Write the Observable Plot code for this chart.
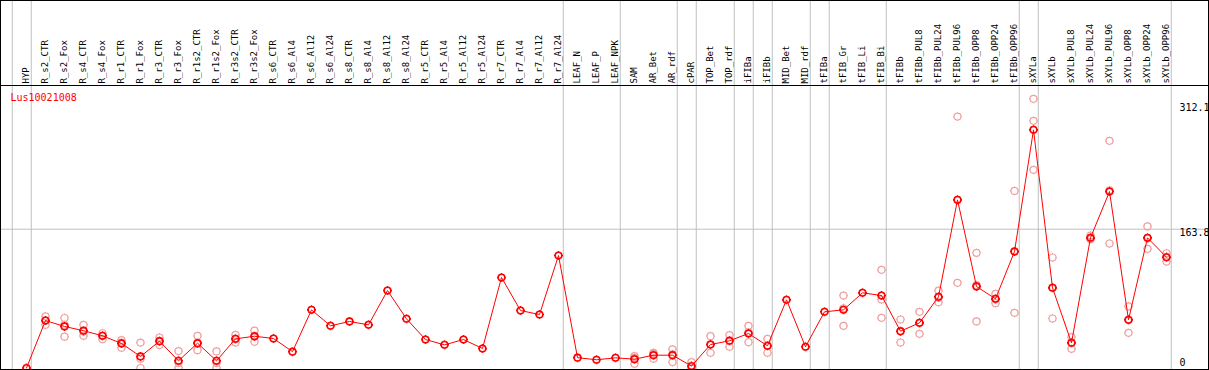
<!DOCTYPE html>
<html>
<head>
<meta charset="utf-8">
<script src="https://cdn.jsdelivr.net/npm/d3@7"></script>
<script src="https://cdn.jsdelivr.net/npm/@observablehq/plot@0.6"></script>
<style>
  html, body { margin: 0; padding: 0; background: white; }
  #chart svg { display: block; }
</style>
</head>
<body>
<div id="chart"></div>
<script>
const title = "Lus10021008";

const categories = [
  "HYP","R_s2_CTR","R_s2_Fox","R_s4_CTR","R_s4_Fox","R_r1_CTR","R_r1_Fox","R_r3_CTR","R_r3_Fox",
  "R_r1s2_CTR","R_r1s2_Fox","R_r3s2_CTR","R_r3s2_Fox","R_s6_CTR","R_s6_Al4","R_s6_Al12","R_s6_Al24",
  "R_s8_CTR","R_s8_Al4","R_s8_Al12","R_s8_Al24","R_r5_CTR","R_r5_Al4","R_r5_Al12","R_r5_Al24",
  "R_r7_CTR","R_r7_Al4","R_r7_Al12","R_r7_Al24","LEAF_N","LEAF_P","LEAF_NPK","SAM","AR_Bet","AR_rdf",
  "cPAR","TOP_Bet","TOP_rdf","iFIBa","iFIBb","MID_Bet","MID_rdf","tFIBa","tFIB_Gr","tFIB_Li","tFIB_Bi",
  "tFIBb","tFIBb_PUL8","tFIBb_PUL24","tFIBb_PUL96","tFIBb_OPP8","tFIBb_OPP24","tFIBb_OPP96",
  "sXYLa","sXYLb","sXYLb_PUL8","sXYLb_PUL24","sXYLb_PUL96","sXYLb_OPP8","sXYLb_OPP24","sXYLb_OPP96"
];

const means = [
  0, 56, 49, 44, 38, 29, 13.6, 31.6, 8.5,
  29.3, 8.5, 34.4, 37.5, 34.8, 19.3, 68.6, 49.8,
  54.9, 50.9, 91.4, 58, 33.6, 27.3, 33.6, 23,
  106.8, 67.8, 63.1, 132.7, 12.2, 9.7, 12, 10.4, 15.1, 15.1,
  2.3, 27.7, 32.1, 40.7, 26.2, 80.4, 25, 66.3, 68.6, 88.7, 85.5,
  43.4, 53.3, 84, 198.4, 96.2, 81.6, 137.4,
  281, 94.6, 29.7, 153.6, 208.2, 56.9, 153.6, 130.7
];

const replicates = [
  [], [61, 56, 51], [59, 51, 37], [51, 43, 38], [41, 38, 34], [33, 30, 24], [30, 11, 0], [36, 32, 27], [20, 6, 0],
  [38, 29, 21], [19.5, 6, 0], [39, 34, 30], [44, 37, 31], [], [], [], [],
  [], [], [], [], [], [], [], [],
  [], [], [], [], [], [], [], [14, 12, 5], [18, 17, 11], [22, 16, 7],
  [7, 0, 0], [37.5, 28, 18], [38.7, 32.5, 25], [49.8, 42, 30.4], [34.4, 26, 18], [], [], [], [85.5, 70.5, 49.8], [], [115.8, 80.8, 59.2],
  [57.2, 43, 30.1], [66.3, 53, 40.3], [91.4, 83, 77.6], [296.7, 198, 100.5], [135.9, 97.8, 54.9], [87.5, 81, 76.5], [209, 138, 65.1],
  [317.6, 291.6, 233.8], [130.4, 95, 58.4], [36.4, 30, 22.6], [156.3, 152.5, 152], [268, 209.7, 146.9], [72.6, 56.6, 41.5], [167, 153, 140.6], [135.4, 131, 125.6]
];

// index of the last category of each group (vertical separators drawn after them)
const groupEnds = [-1, 0, 28, 31, 34, 35, 37, 38, 39, 41, 42, 45, 52, 53, 60];

const yTicks = [0, 163.8, 312.1];

const meanData = categories.map((c, i) => ({i, c, v: means[i]}));
const repData = replicates.flatMap((vals, i) => vals.map(v => ({i, v})));

function ringTick(r, tick) {
  return {
    draw(ctx) {
      const t = r + tick;
      ctx.moveTo(r, 0);
      ctx.arc(0, 0, r, 0, 2 * Math.PI);
      ctx.moveTo(0, -r); ctx.lineTo(0, -t);
      ctx.moveTo(0, r); ctx.lineTo(0, t);
      ctx.moveTo(r, 0); ctx.lineTo(t, 0);
      ctx.moveTo(-r, 0); ctx.lineTo(-t, 0);
    }
  };
}

const font = "'DejaVu Sans Mono', 'Liberation Mono', monospace";

const chart = Plot.plot({
  width: 1209,
  height: 370,
  margin: 0,
  x: {type: "linear", domain: [0, categories.length - 1], range: [26, 1166], axis: null},
  y: {type: "linear", domain: [0, 312.1], range: [367.5, 103], axis: null},
  style: {background: "white", fontFamily: font},
  marks: [
    Plot.ruleX(groupEnds, {x: d => d + 0.25, stroke: "#c0c0c0", strokeWidth: 1}),
    Plot.ruleY([yTicks[1]], {stroke: "#c0c0c0", strokeWidth: 1}),
    Plot.text(categories, {
      x: (d, i) => i, text: d => d, frameAnchor: "top", dy: 83,
      rotate: -90, textAnchor: "start", lineAnchor: "middle",
      fontSize: 9, fill: "black", fontFamily: font
    }),
    Plot.text([title], {
      frameAnchor: "top-left", dx: 10, dy: 97, textAnchor: "start", lineAnchor: "middle",
      fontSize: 10, fill: "red", fontFamily: font
    }),
    Plot.text(yTicks.slice(1), {
      y: d => d, text: d => String(d), frameAnchor: "right", dx: -30,
      textAnchor: "start", lineAnchor: "top", fontSize: 10, fill: "black", fontFamily: font
    }),
    Plot.text(yTicks.slice(0, 1), {
      y: d => d, text: d => String(d), frameAnchor: "right", dx: -30, dy: -2,
      textAnchor: "start", lineAnchor: "bottom", fontSize: 10, fill: "black", fontFamily: font
    }),
    Plot.dot(repData, {x: "i", y: "v", r: 3, symbol: ringTick(3.5, 0.9), stroke: "#f0a0a0", strokeWidth: 1.2, fill: "none"}),
    Plot.line(meanData, {x: "i", y: "v", stroke: "red", strokeWidth: 1}),
    Plot.dot(meanData, {x: "i", y: "v", r: 3, symbol: ringTick(3.3, 1.2), stroke: "red", strokeWidth: 1.6, fill: "none"})
  ]
});

const svg = d3.select(chart);
svg.append("line")
  .attr("x1", 0).attr("x2", 1208).attr("y1", 85.5).attr("y2", 85.5)
  .attr("stroke", "black").attr("stroke-width", 1);
svg.append("rect")
  .attr("x", 0.5).attr("y", 0.5).attr("width", 1208).attr("height", 369)
  .attr("fill", "none").attr("stroke", "black").attr("stroke-width", 1);

document.getElementById("chart").append(chart);
</script>
</body>
</html>
